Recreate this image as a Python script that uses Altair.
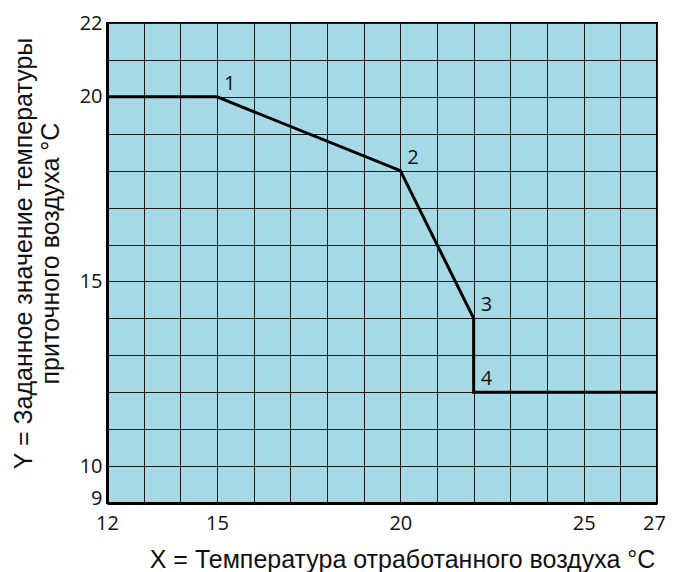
import altair as alt
import pandas as pd

# Data
x_vals = [12, 15, 20, 22, 22, 27]
y_vals = [20, 20, 18, 14, 12, 12]
pt_x = [15, 20, 22, 22]
pt_y = [20, 18, 14, 12]
pt_labels = ["1", "2", "3", "4"]
x_tick_labels = [12, 15, 20, 25, 27]
y_tick_labels = [9, 10, 15, 20, 22]
x_title = "X = Температура отработанного воздуха °C"
y_title = ["Y = Заданное значение температуры", "приточного воздуха °C"]

line_df = pd.DataFrame({"x": x_vals, "y": y_vals, "order": list(range(len(x_vals)))})
pt_df = pd.DataFrame({"x": pt_x, "y": pt_y, "label": pt_labels})

x_grid = list(range(12, 28))
y_grid = list(range(9, 23))

def label_expr(vals):
    cond = " || ".join("datum.value == " + str(v) for v in vals)
    return "(" + cond + ") ? datum.label : ''"

TITLE_FONT = "Liberation Sans"
TITLE_SIZE = 25
LABEL_FONT = "Open Sans"
LABEL_SIZE = 20


def build(use_offsets):
    x_axis_kwargs = dict(
        values=x_grid,
        labelExpr=label_expr(x_tick_labels),
        title=x_title,
        titleFont=TITLE_FONT,
        titleFontSize=TITLE_SIZE,
        titleFontWeight="normal",
        titleColor="#111",
        titleX=295,
        titleY=56,
        titleBaseline="middle",
        labelFont=LABEL_FONT,
        labelFontSize=LABEL_SIZE,
        labelColor="#111",
        labelPadding=10,
        labelFlush=False,
        ticks=False,
        grid=True,
        gridColor="#1a1a1a",
        gridWidth=1,
        gridOpacity=1,
        domainColor="#000",
        domainWidth=3,
        labelOverlap=False,
    )
    y_axis_kwargs = dict(
        values=y_grid,
        labelExpr=label_expr(y_tick_labels),
        title=y_title,
        titleFont=TITLE_FONT,
        titleFontSize=TITLE_SIZE,
        titleFontWeight="normal",
        titleColor="#111",
        titleLineHeight=27,
        titleAngle=-90,
        titleX=-96,
        titleY=230,
        titleBaseline="top",
        titleAlign="center",
        labelFont=LABEL_FONT,
        labelFontSize=LABEL_SIZE,
        labelColor="#111",
        labelPadding=5,
        labelFlush=False,
        ticks=False,
        grid=True,
        gridColor="#1a1a1a",
        gridWidth=1,
        gridOpacity=1,
        domainColor="#000",
        domainWidth=3,
        labelOverlap=False,
    )
    if use_offsets:
        x_axis_kwargs["labelOffset"] = {"condition": {"test": "datum.value == 27", "value": -3}, "value": 0}
        y_axis_kwargs["labelOffset"] = {"condition": {"test": "datum.value == 9", "value": -5}, "value": 0}

    x_enc = alt.X(
        "x:Q",
        scale=alt.Scale(domain=[12, 27], nice=False, zero=False),
        axis=alt.Axis(**x_axis_kwargs),
    )
    y_enc = alt.Y(
        "y:Q",
        scale=alt.Scale(domain=[9, 22], nice=False, zero=False),
        axis=alt.Axis(**y_axis_kwargs),
    )

    line = alt.Chart(line_df).mark_line(color="#000", strokeWidth=3, clip=True).encode(
        x=x_enc, y=y_enc, order="order:Q"
    )

    labels = alt.Chart(pt_df).mark_text(
        align="left", baseline="middle", dx=7, dy=-13, font=LABEL_FONT, fontSize=LABEL_SIZE, color="#111"
    ).encode(x=x_enc, y=y_enc, text="label:N")

    return (
        alt.layer(line, labels)
        .properties(
            width=550,
            height=480,
            autosize=alt.AutoSizeParams(type="none"),
            padding={"left": 99, "top": 15, "right": 10, "bottom": 69},
        )
        .configure_view(fill="#a6d9e6", stroke="#000", strokeWidth=2)
    )


try:
    chart = build(True)
    chart.to_dict()
except Exception:
    chart = build(False)

chart.save("out.html", embed_options={"renderer": "svg", "actions": False})
